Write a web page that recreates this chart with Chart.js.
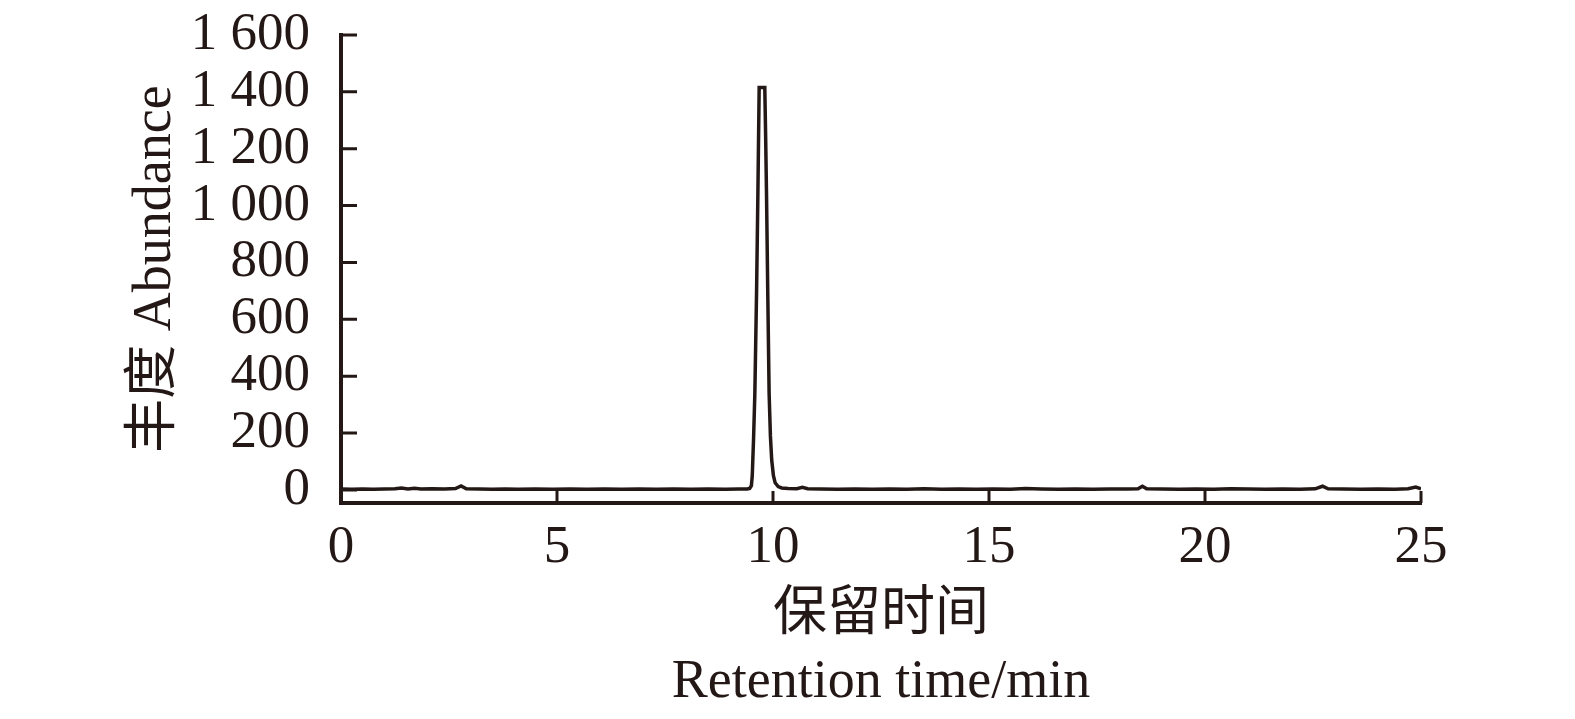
<!DOCTYPE html>
<html>
<head>
<meta charset="utf-8">
<title>Retention time chromatogram</title>
<script src="https://cdn.jsdelivr.net/npm/chart.js@4.4.1/dist/chart.umd.min.js"></script>
<style>
  html, body { margin: 0; padding: 0; background: #fff; }
  #wrap { width: 1575px; height: 719px; }
</style>
</head>
<body>
<div id="wrap"><canvas id="chart" width="1575" height="719"></canvas></div>
<script>
// retention time (min) and abundance
const retentionTime = [
  0.00, 0.25, 0.50, 0.75, 1.00, 1.25, 1.40, 1.55, 1.70, 1.85,
  2.10, 2.40, 2.65, 2.78, 2.90, 3.20, 3.50, 3.80, 4.10, 4.50,
  4.90, 5.30, 5.70, 6.10, 6.50, 6.90, 7.30, 7.70, 8.10, 8.50,
  8.90, 9.20, 9.40, 9.46, 9.50, 9.52, 9.55, 9.58, 9.62, 9.65,
  9.68, 9.81, 9.83, 9.85, 9.88, 9.91, 9.94, 9.97, 10.01, 10.05,
  10.12, 10.20, 10.35, 10.55, 10.68, 10.80, 11.10, 11.50, 11.90, 12.30,
  12.70, 13.10, 13.50, 13.90, 14.30, 14.70, 15.10, 15.50, 15.85, 16.20,
  16.60, 17.00, 17.40, 17.80, 18.20, 18.45, 18.55, 18.65, 19.00, 19.40,
  19.80, 20.20, 20.60, 21.00, 21.40, 21.80, 22.20, 22.55, 22.72, 22.85,
  23.20, 23.60, 24.00, 24.40, 24.70, 24.88, 25.00,
];
const abundance = [
  3, 2, 3, 2, 3, 4, 7, 3, 6, 3,
  4, 3, 5, 14, 4, 3, 2, 3, 2, 3,
  2, 3, 2, 3, 2, 3, 2, 3, 2, 3,
  2, 3, 3, 5, 15, 50, 180, 340, 700, 1040,
  1415, 1415, 1240, 1040, 680, 340, 190, 105, 50, 25,
  12, 7, 5, 4, 9, 4, 3, 2, 3, 2,
  3, 2, 4, 2, 3, 2, 3, 2, 5, 3,
  2, 3, 2, 3, 3, 4, 13, 4, 3, 2,
  3, 2, 4, 3, 2, 3, 2, 4, 13, 4,
  3, 2, 3, 2, 4, 10, 4,
];
const xTicks = [0, 5, 10, 15, 20, 25];
const yTicks = [0, 200, 400, 600, 800, 1000, 1200, 1400, 1600];

const ink = "#231815";
const serif = "'Liberation Serif', 'Times New Roman', 'Noto Sans CJK SC', serif";

function spaced(v) {
  return String(v).replace(/\B(?=(\d{3})+(?!\d))/g, " ");
}

// inward tick marks, placed with the chart's own scales
const innerTicks = {
  id: "innerTicks",
  afterDraw(chart) {
    const ctx = chart.ctx;
    const x = chart.scales.x;
    const y = chart.scales.y;
    const area = chart.chartArea;
    ctx.save();
    ctx.strokeStyle = ink;
    ctx.lineWidth = 3;
    ctx.beginPath();
    yTicks.forEach((v) => {
      const py = y.getPixelForValue(v);
      ctx.moveTo(area.left, py);
      ctx.lineTo(area.left + 16, py);
    });
    xTicks.forEach((v) => {
      const px = x.getPixelForValue(v);
      ctx.moveTo(px, area.bottom);
      ctx.lineTo(px, area.bottom - 12);
    });
    ctx.stroke();
    ctx.restore();
  },
};

const points = retentionTime.map((t, i) => ({ x: t, y: abundance[i] }));

new Chart(document.getElementById("chart"), {
  type: "scatter",
  data: {
    datasets: [
      {
        data: points,
        showLine: true,
        borderColor: ink,
        borderWidth: 3.5,
        pointRadius: 0,
        tension: 0,
      },
    ],
  },
  options: {
    responsive: false,
    animation: false,
    layout: { padding: { top: 35, right: 154, bottom: 0, left: 0 } },
    plugins: { legend: { display: false }, tooltip: { enabled: false } },
    scales: {
      x: {
        type: "linear",
        min: 0,
        max: 25,
        afterBuildTicks: (scale) => {
          scale.ticks = xTicks.map((v) => ({ value: v }));
        },
        afterFit: (scale) => {
          scale.height = 216;
          scale.paddingLeft = 0;
          scale.paddingRight = 0;
        },
        grid: { display: false },
        border: { display: true, color: ink, width: 4 },
        ticks: {
          color: ink,
          font: { family: serif, size: 53 },
          padding: 5,
          autoSkip: false,
          maxRotation: 0,
        },
        title: {
          display: true,
          text: ["保留时间", "Retention time/min"],
          color: ink,
          font: { family: serif, size: 54, lineHeight: 1.24 },
          padding: { top: 0, bottom: 3 },
        },
      },
      y: {
        type: "linear",
        min: -46,
        max: 1600,
        afterBuildTicks: (scale) => {
          scale.ticks = yTicks.map((v) => ({ value: v }));
        },
        afterFit: (scale) => {
          scale.width = 341;
          scale.paddingTop = 0;
          scale.paddingBottom = 0;
        },
        grid: { display: false },
        border: { display: true, color: ink, width: 4 },
        ticks: {
          color: ink,
          font: { family: serif, size: 53 },
          padding: 23,
          autoSkip: false,
          callback: (v) => spaced(v),
        },
        title: {
          display: true,
          text: "丰度 Abundance",
          color: ink,
          font: { family: serif, size: 54, lineHeight: 1.2 },
          padding: { top: 123, bottom: 0 },
        },
      },
    },
  },
  plugins: [innerTicks],
});
</script>
</body>
</html>
